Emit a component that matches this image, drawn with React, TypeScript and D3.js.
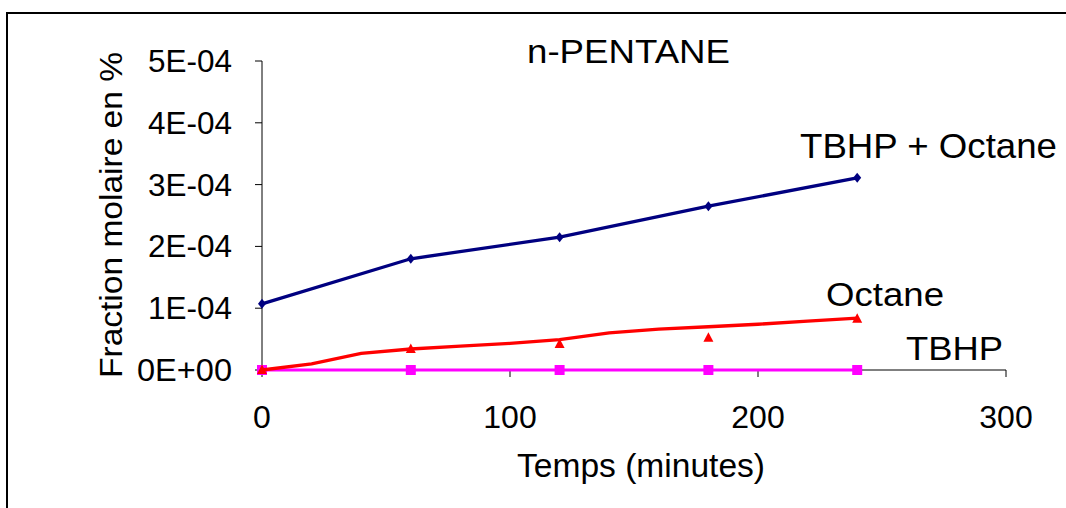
import React from "react";
import * as d3 from "d3";

const timeMinutes = [0, 60, 120, 180, 240];
const tbhpOctane = [1.07e-4, 1.8e-4, 2.15e-4, 2.65e-4, 3.11e-4];
const octane = [0, 0.34e-4, 0.42e-4, 0.52e-4, 0.83e-4];
const tbhp = [0, 0, 0, 0, 0];
const octaneCurveTime = [0, 20, 40, 60, 80, 100, 120, 140, 160, 180, 200, 220, 240];
const octaneCurve = [0, 0.1e-4, 0.27e-4, 0.34e-4, 0.385e-4, 0.43e-4, 0.49e-4, 0.6e-4, 0.66e-4, 0.7e-4, 0.74e-4, 0.79e-4, 0.84e-4];
const yTicks = [0, 1e-4, 2e-4, 3e-4, 4e-4, 5e-4];
const yTickLabels = ["0E+00", "1E-04", "2E-04", "3E-04", "4E-04", "5E-04"];
const xTicks = [0, 100, 200, 300];

const W = 1066;
const H = 508;
const FONT = "'Liberation Sans', Arial, sans-serif";

const diamondPath = "M0,-5L4,0L0,5L-4,0Z";
const squarePath = "M-5,-5H5V5H-5Z";
const trianglePath = "M0,-5.5L5,4L-5,4Z";

export default function App() {
  const x = d3.scaleLinear().domain([0, 300]).range([262, 1006]);
  const y = d3.scaleLinear().domain([0, 5e-4]).range([370, 61]);
  const line = d3.line<[number, number]>().x((d) => x(d[0])).y((d) => y(d[1]));

  const blueData = timeMinutes.map((t, i) => [t, tbhpOctane[i]] as [number, number]);
  const pinkData = timeMinutes.map((t, i) => [t, tbhp[i]] as [number, number]);
  const redCurve = octaneCurveTime.map((t, i) => [t, octaneCurve[i]] as [number, number]);

  return (
    <svg width={W} height={H} style={{ position: "absolute", left: 0, top: 0, background: "#fff" }} fontFamily={FONT}>
      <rect x={0} y={0} width={W} height={H} fill="#fff" />
      <rect x={7} y={13} width={W + 20} height={H + 20} fill="none" stroke="#000" strokeWidth={2} />

      {/* axes */}
      <line x1={262} x2={262} y1={y(5e-4)} y2={y(0)} stroke="#000" strokeWidth={1} />
      <line x1={x(0)} x2={x(300)} y1={370} y2={370} stroke="#000" strokeWidth={1} />
      {yTicks.map((t, i) => (
        <g key={"y" + i}>
          <line x1={255} x2={262} y1={y(t)} y2={y(t)} stroke="#000" strokeWidth={1} />
          <text x={232} y={y(t) + 11} fontSize={31} textAnchor="end" fill="#000" textLength={yTickLabels[i].length === 5 ? (i === 0 ? 95 : 84) : undefined} lengthAdjust="spacingAndGlyphs">
            {yTickLabels[i]}
          </text>
        </g>
      ))}
      {xTicks.map((t) => (
        <g key={"x" + t}>
          <line x1={x(t)} x2={x(t)} y1={370} y2={377} stroke="#000" strokeWidth={1} />
          <text x={x(t)} y={428} fontSize={32} textAnchor="middle" fill="#000">
            {t}
          </text>
        </g>
      ))}

      {/* series */}
      <path d={line(pinkData) || ""} fill="none" stroke="#FF00FF" strokeWidth={3} />
      {pinkData.map((d, i) => (
        <path key={"p" + i} d={squarePath} transform={`translate(${x(d[0])},${y(d[1])})`} fill="#FF00FF" />
      ))}
      <path d={line(redCurve) || ""} fill="none" stroke="#FF0000" strokeWidth={3.3} />
      {timeMinutes.map((t, i) => (
        <path key={"r" + i} d={trianglePath} transform={`translate(${x(t)},${y(octane[i])})`} fill="#FF0000" />
      ))}
      <path d={line(blueData) || ""} fill="none" stroke="#000080" strokeWidth={3.3} />
      {blueData.map((d, i) => (
        <path key={"b" + i} d={diamondPath} transform={`translate(${x(d[0])},${y(d[1])})`} fill="#000080" />
      ))}

      {/* texts */}
      <text x={527} y={63} fontSize={34} fill="#000" textLength={203} lengthAdjust="spacingAndGlyphs">n-PENTANE</text>
      <text x={800} y={158} fontSize={35} fill="#000" textLength={257} lengthAdjust="spacingAndGlyphs">TBHP + Octane</text>
      <text x={826} y={306} fontSize={34} fill="#000" textLength={118} lengthAdjust="spacingAndGlyphs">Octane</text>
      <text x={906} y={360} fontSize={34} fill="#000" textLength={97} lengthAdjust="spacingAndGlyphs">TBHP</text>
      <text x={517} y={477} fontSize={33} fill="#000" textLength={248} lengthAdjust="spacingAndGlyphs">Temps (minutes)</text>
      <text transform="translate(122,378) rotate(-90)" fontSize={32} fill="#000" textLength={326} lengthAdjust="spacingAndGlyphs">
        Fraction molaire en %
      </text>
    </svg>
  );
}
